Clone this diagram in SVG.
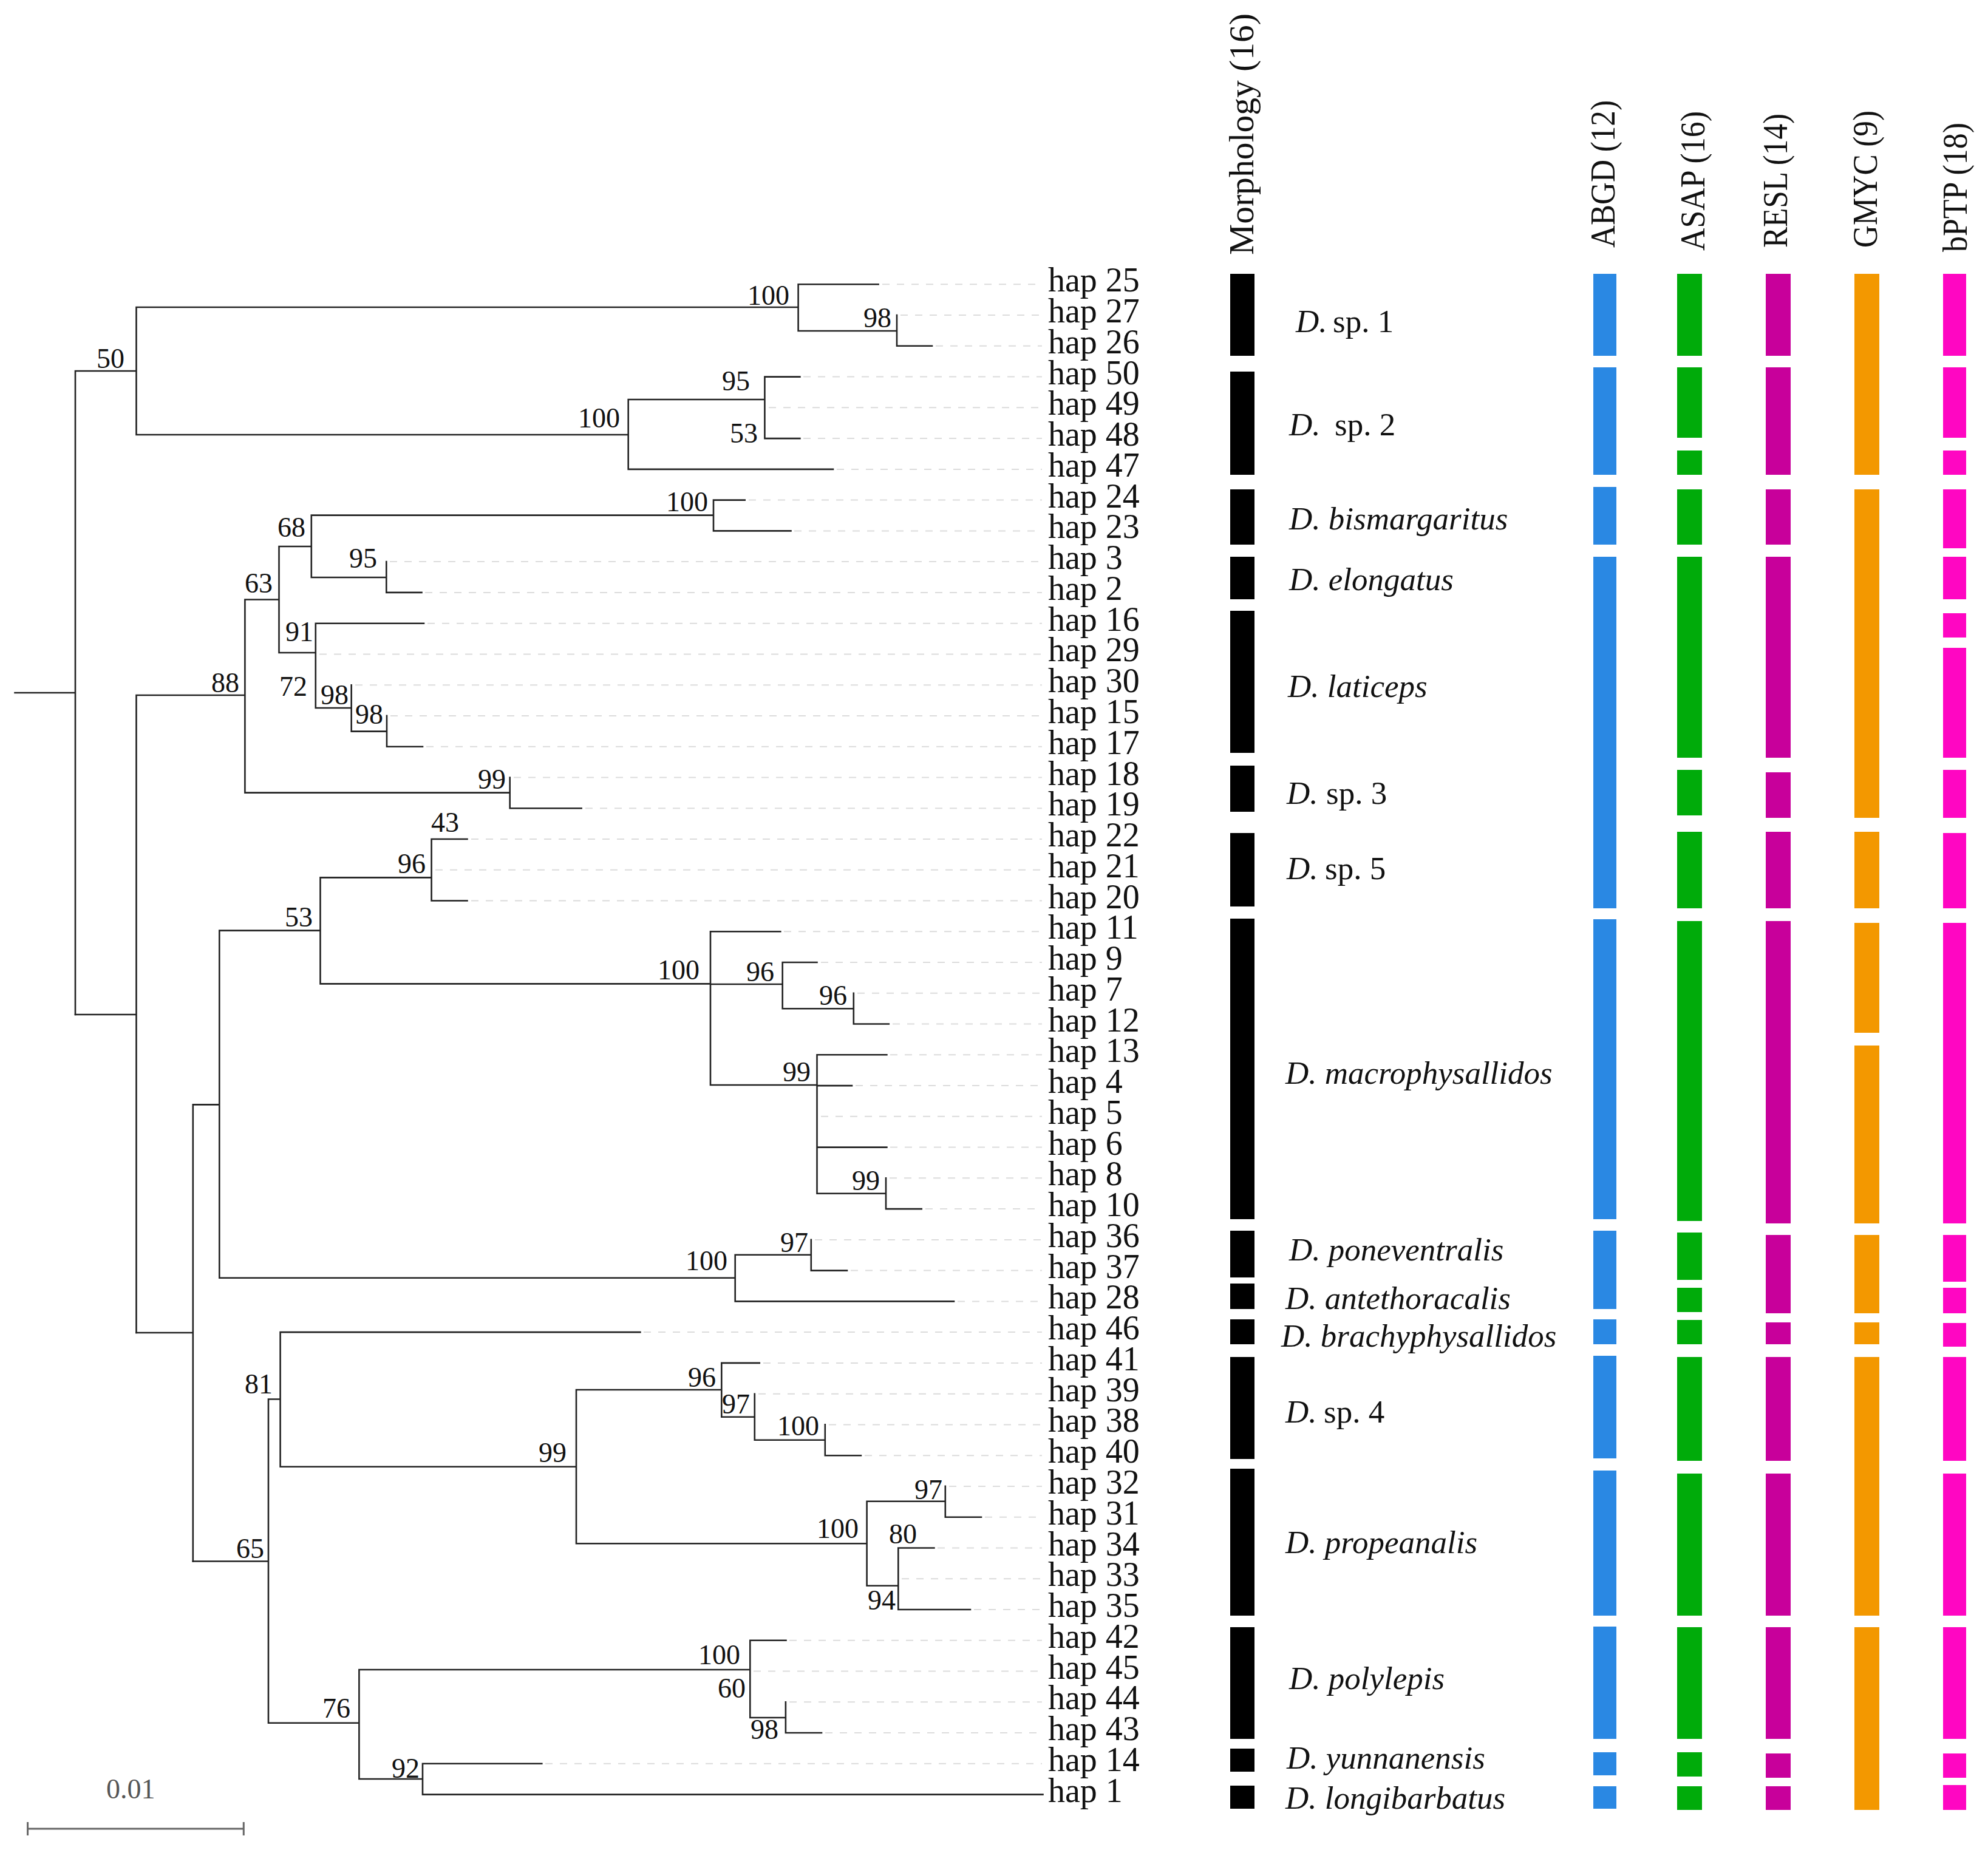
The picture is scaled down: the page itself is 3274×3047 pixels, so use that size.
<svg xmlns="http://www.w3.org/2000/svg" width="3274" height="3047" viewBox="0 0 3274 3047">
<style>
.br{stroke:#222;stroke-width:2.6;fill:none;stroke-linecap:square}
.dl{stroke:#dcdcdc;stroke-width:2;stroke-dasharray:12 12;fill:none}
.hap{font-family:"Liberation Serif","Times New Roman",serif;font-size:56px;fill:#111}
.bs{font-family:"Liberation Serif","Times New Roman",serif;font-size:46px;fill:#111;text-anchor:end}
.sp{font-family:"Liberation Serif","Times New Roman",serif;font-size:53px;fill:#111}
.it{font-style:italic}
.hd{font-family:"Liberation Serif","Times New Roman",serif;font-size:58px;fill:#111}
.mo{fill:#000}.ab{fill:#2A88E3}.as{fill:#00AB0A}.re{fill:#C8009B}.gm{fill:#F39800}.bp{fill:#FF06C2}
</style>
<rect width="3274" height="3047" fill="#fff"/>
<g id="connectors">
<path class="br" d="M24.5,1141H124M124,611V1671M124,611H224.5M224.5,506V716M224.5,506H1314.6M1314.6,468.3V545M1314.6,468.3H1446.6M1314.6,545H1477M1477,519.1V569.8M1477,569.8H1535M224.5,716H1034.7M1034.7,658V772.9M1034.7,658H1259.4M1259.4,620.6V722.1M1259.4,620.6H1317.4M1259.4,722.1H1317.4M1034.7,772.9H1372"/>
<path class="br" d="M124,1671H224.5M224.5,1145V2195M224.5,1145H403.4M403.4,987.5V1305.6M403.4,987.5H459.5M459.5,900V1075M459.5,900H512.8M512.8,848.6V951M512.8,848.6H1175M1175,823.6V874.4M1175,823.6H1226.7M1175,874.4H1302.5M512.8,951H636.3M636.3,925.1V975.9M636.3,975.9H694.5M459.5,1075H519.8M519.8,1026.7V1166M519.8,1026.7H698M519.8,1166H578.7M578.7,1128.2V1204.6M578.7,1204.6H637M637,1178.9V1229.7M637,1229.7H696M403.4,1305.6H839.7M839.7,1280.5V1331.2M839.7,1331.2H957.6"/>
<path class="br" d="M224.5,2195H317.8M317.8,1819.4V2571.5M317.8,1819.4H361.3M361.3,1532.6V2104.8M361.3,1532.6H527.5M527.5,1445.4V1620.4M527.5,1445.4H710.6M710.6,1382V1483.5M710.6,1382H769.5M710.6,1483.5H769.5M527.5,1620.4H1170M1170,1534.3V1787M1170,1534.3H1285.3M1170,1621H1288.7M1288.7,1585V1661.2M1288.7,1585H1345.5M1288.7,1661.2H1405.8M1405.8,1635.8V1686.5M1405.8,1686.5H1463.8M1170,1787H1345.5M1345.5,1737.3V1965.8M1345.5,1737.3H1460.4M1345.5,1788.1H1403M1345.5,1889.6H1460.4M1345.5,1965.8H1459M1459,1940.3V1991.1M1459,1991.1H1517.7M361.3,2104.8H1210.7M1210.7,2066.8V2143.4M1210.7,2066.8H1335.8M1335.8,2041.9V2092.6M1335.8,2092.6H1395M1210.7,2143.4H1571"/>
<path class="br" d="M317.8,2571.5H442M442,2304.5V2837.8M442,2304.5H461.6M461.6,2194.1V2415.7M461.6,2194.1H1054.4M461.6,2415.7H949M949,2289V2542.3M949,2289H1188.3M1188.3,2244.9V2333.8M1188.3,2244.9H1250.8M1188.3,2333.8H1242.8M1242.8,2295.7V2371.8M1242.8,2371.8H1358.8M1358.8,2346.4V2397.2M1358.8,2397.2H1417.9M949,2542.3H1427.6M1427.6,2472.8V2611.7M1427.6,2472.8H1556.8M1556.8,2447.9V2498.7M1556.8,2498.7H1616M1427.6,2611.7H1479.3M1479.3,2549.5V2651M1479.3,2549.5H1538.4M1479.3,2651H1598M442,2837.8H591.4M591.4,2750V2930M591.4,2750H1235.3M1235.3,2701.7V2829M1235.3,2701.7H1294.5M1235.3,2829H1293.9M1293.9,2803.3V2854M1293.9,2854H1353M591.4,2930H696M696,2904.8V2955.6M696,2904.8H892.3M696,2955.6H1717.5"/>
<path class="dl" d="M1453,468.3H1716M1483,519.1H1716M1541,569.8H1716M1323,620.6H1716M1266,671.3H1716M1323,722.1H1716M1378,772.9H1716M1233,823.6H1716M1308,874.4H1716M642,925.1H1716M700,975.9H1716M704,1026.7H1716M526,1077.4H1716M585,1128.2H1716M643,1178.9H1716M702,1229.7H1716M846,1280.5H1716M964,1331.2H1716M776,1382H1716M717,1432.7H1716M776,1483.5H1716M1291,1534.3H1716M1352,1585H1716M1412,1635.8H1716M1470,1686.5H1716M1466,1737.3H1716M1409,1788.1H1716M1352,1838.8H1716M1466,1889.6H1716M1465,1940.3H1716M1524,1991.1H1716M1342,2041.9H1716M1401,2092.6H1716M1577,2143.4H1716M1060,2194.1H1716M1257,2244.9H1716M1249,2295.7H1716M1365,2346.4H1716M1424,2397.2H1716M1563,2447.9H1716M1622,2498.7H1716M1544,2549.5H1716M1485,2600.2H1716M1604,2651H1716M1300,2701.7H1716M1241,2752.5H1716M1300,2803.3H1716M1359,2854H1716M898,2904.8H1716"/>
</g>
<g id="support">
<text class="bs" x="205" y="606">50</text>
<text class="bs" x="1300" y="502">100</text>
<text class="bs" x="1468" y="539">98</text>
<text class="bs" x="1021" y="704">100</text>
<text class="bs" x="1235" y="643">95</text>
<text class="bs" x="1248" y="729">53</text>
<text class="bs" x="1166" y="842">100</text>
<text class="bs" x="503" y="884">68</text>
<text class="bs" x="621" y="935">95</text>
<text class="bs" x="449" y="976">63</text>
<text class="bs" x="516" y="1056">91</text>
<text class="bs" x="394" y="1140">88</text>
<text class="bs" x="506" y="1146">72</text>
<text class="bs" x="574" y="1160">98</text>
<text class="bs" x="631" y="1192">98</text>
<text class="bs" x="833" y="1299">99</text>
<text class="bs" x="756" y="1370">43</text>
<text class="bs" x="701" y="1438">96</text>
<text class="bs" x="515" y="1526">53</text>
<text class="bs" x="1152" y="1613">100</text>
<text class="bs" x="1275" y="1616">96</text>
<text class="bs" x="1395" y="1655">96</text>
<text class="bs" x="1335" y="1781">99</text>
<text class="bs" x="1449" y="1960">99</text>
<text class="bs" x="1331" y="2062">97</text>
<text class="bs" x="1198" y="2092">100</text>
<text class="bs" x="449" y="2295">81</text>
<text class="bs" x="933" y="2408">99</text>
<text class="bs" x="1179" y="2284">96</text>
<text class="bs" x="1235" y="2328">97</text>
<text class="bs" x="1349" y="2364">100</text>
<text class="bs" x="1552" y="2469">97</text>
<text class="bs" x="1414" y="2533">100</text>
<text class="bs" x="1510" y="2542">80</text>
<text class="bs" x="1475" y="2651">94</text>
<text class="bs" x="435" y="2566">65</text>
<text class="bs" x="577" y="2829">76</text>
<text class="bs" x="1219" y="2741">100</text>
<text class="bs" x="1228" y="2796">60</text>
<text class="bs" x="1282" y="2864">98</text>
<text class="bs" x="691" y="2928">92</text>
</g>
<g id="leaves">
<text class="hap" x="1726" y="480.3">hap 25</text>
<text class="hap" x="1726" y="531.1">hap 27</text>
<text class="hap" x="1726" y="581.8">hap 26</text>
<text class="hap" x="1726" y="632.6">hap 50</text>
<text class="hap" x="1726" y="683.3">hap 49</text>
<text class="hap" x="1726" y="734.1">hap 48</text>
<text class="hap" x="1726" y="784.9">hap 47</text>
<text class="hap" x="1726" y="835.6">hap 24</text>
<text class="hap" x="1726" y="886.4">hap 23</text>
<text class="hap" x="1726" y="937.1">hap 3</text>
<text class="hap" x="1726" y="987.9">hap 2</text>
<text class="hap" x="1726" y="1038.7">hap 16</text>
<text class="hap" x="1726" y="1089.4">hap 29</text>
<text class="hap" x="1726" y="1140.2">hap 30</text>
<text class="hap" x="1726" y="1190.9">hap 15</text>
<text class="hap" x="1726" y="1241.7">hap 17</text>
<text class="hap" x="1726" y="1292.5">hap 18</text>
<text class="hap" x="1726" y="1343.2">hap 19</text>
<text class="hap" x="1726" y="1394">hap 22</text>
<text class="hap" x="1726" y="1444.7">hap 21</text>
<text class="hap" x="1726" y="1495.5">hap 20</text>
<text class="hap" x="1726" y="1546.3">hap 11</text>
<text class="hap" x="1726" y="1597">hap 9</text>
<text class="hap" x="1726" y="1647.8">hap 7</text>
<text class="hap" x="1726" y="1698.5">hap 12</text>
<text class="hap" x="1726" y="1749.3">hap 13</text>
<text class="hap" x="1726" y="1800.1">hap 4</text>
<text class="hap" x="1726" y="1850.8">hap 5</text>
<text class="hap" x="1726" y="1901.6">hap 6</text>
<text class="hap" x="1726" y="1952.3">hap 8</text>
<text class="hap" x="1726" y="2003.1">hap 10</text>
<text class="hap" x="1726" y="2053.9">hap 36</text>
<text class="hap" x="1726" y="2104.6">hap 37</text>
<text class="hap" x="1726" y="2155.4">hap 28</text>
<text class="hap" x="1726" y="2206.1">hap 46</text>
<text class="hap" x="1726" y="2256.9">hap 41</text>
<text class="hap" x="1726" y="2307.7">hap 39</text>
<text class="hap" x="1726" y="2358.4">hap 38</text>
<text class="hap" x="1726" y="2409.2">hap 40</text>
<text class="hap" x="1726" y="2459.9">hap 32</text>
<text class="hap" x="1726" y="2510.7">hap 31</text>
<text class="hap" x="1726" y="2561.5">hap 34</text>
<text class="hap" x="1726" y="2612.2">hap 33</text>
<text class="hap" x="1726" y="2663">hap 35</text>
<text class="hap" x="1726" y="2713.7">hap 42</text>
<text class="hap" x="1726" y="2764.5">hap 45</text>
<text class="hap" x="1726" y="2815.3">hap 44</text>
<text class="hap" x="1726" y="2866">hap 43</text>
<text class="hap" x="1726" y="2916.8">hap 14</text>
<text class="hap" x="1726" y="2967.6">hap 1</text>
</g>
<g id="scale-bar">
<path d="M45.6,3012H401.3M45.6,3001V3023M401.3,3001V3023" stroke="#666" stroke-width="3" fill="none"/>
<text x="175" y="2962" font-family="Liberation Serif, serif" font-size="46" fill="#555">0.01</text>
</g>
<g id="headers">
<text class="hd" transform="translate(2064,420) rotate(-90)" textLength="398" lengthAdjust="spacingAndGlyphs">Morphology (16)</text>
<text class="hd" transform="translate(2659,408) rotate(-90)" textLength="243" lengthAdjust="spacingAndGlyphs">ABGD (12)</text>
<text class="hd" transform="translate(2807,413) rotate(-90)" textLength="230" lengthAdjust="spacingAndGlyphs">ASAP (16)</text>
<text class="hd" transform="translate(2943,408) rotate(-90)" textLength="221" lengthAdjust="spacingAndGlyphs">RESL (14)</text>
<text class="hd" transform="translate(3091,408) rotate(-90)" textLength="226" lengthAdjust="spacingAndGlyphs">GMYC (9)</text>
<text class="hd" transform="translate(3239,415) rotate(-90)" textLength="213" lengthAdjust="spacingAndGlyphs">bPTP (18)</text>
</g>
<g id="morphology">
<rect class="mo" x="2026" y="451" width="40" height="135"/>
<rect class="mo" x="2026" y="612" width="40" height="170"/>
<rect class="mo" x="2026" y="806" width="40" height="91"/>
<rect class="mo" x="2026" y="917" width="40" height="70"/>
<rect class="mo" x="2026" y="1006" width="40" height="234"/>
<rect class="mo" x="2026" y="1261" width="40" height="76"/>
<rect class="mo" x="2026" y="1372" width="40" height="121"/>
<rect class="mo" x="2026" y="1513" width="40" height="495"/>
<rect class="mo" x="2026" y="2027" width="40" height="77"/>
<rect class="mo" x="2026" y="2114" width="40" height="42"/>
<rect class="mo" x="2026" y="2173" width="40" height="41"/>
<rect class="mo" x="2026" y="2235" width="40" height="168"/>
<rect class="mo" x="2026" y="2419" width="40" height="242"/>
<rect class="mo" x="2026" y="2680" width="40" height="184"/>
<rect class="mo" x="2026" y="2880" width="40" height="38"/>
<rect class="mo" x="2026" y="2941" width="40" height="38"/>
</g>
<g id="species">
<text class="sp" x="2134" y="547"><tspan class="it">D.</tspan><tspan x="2195">sp. 1</tspan></text>
<text class="sp" x="2123" y="717"><tspan class="it">D.</tspan><tspan x="2198">sp. 2</tspan></text>
<text class="sp it" x="2123" y="872">D. bismargaritus</text>
<text class="sp it" x="2123" y="972">D. elongatus</text>
<text class="sp it" x="2121" y="1148">D. laticeps</text>
<text class="sp" x="2119" y="1324"><tspan class="it">D.</tspan><tspan x="2184">sp. 3</tspan></text>
<text class="sp" x="2119" y="1448"><tspan class="it">D.</tspan><tspan x="2182">sp. 5</tspan></text>
<text class="sp it" x="2117" y="1785">D. macrophysallidos</text>
<text class="sp it" x="2123" y="2076">D. poneventralis</text>
<text class="sp it" x="2117" y="2156">D. antethoracalis</text>
<text class="sp it" x="2110" y="2218">D. brachyphysallidos</text>
<text class="sp" x="2117" y="2343"><tspan class="it">D.</tspan><tspan x="2180">sp. 4</tspan></text>
<text class="sp it" x="2117" y="2558">D. propeanalis</text>
<text class="sp it" x="2123" y="2782">D. polylepis</text>
<text class="sp it" x="2119" y="2913">D. yunnanensis</text>
<text class="sp it" x="2117" y="2979">D. longibarbatus</text>
</g>
<g id="abgd">
<rect class="ab" x="2624" y="451" width="38" height="135"/>
<rect class="ab" x="2624" y="605" width="38" height="177"/>
<rect class="ab" x="2624" y="802" width="38" height="95"/>
<rect class="ab" x="2624" y="917" width="38" height="579"/>
<rect class="ab" x="2624" y="1514" width="38" height="494"/>
<rect class="ab" x="2624" y="2027" width="38" height="129"/>
<rect class="ab" x="2624" y="2173" width="38" height="41"/>
<rect class="ab" x="2624" y="2233" width="38" height="169"/>
<rect class="ab" x="2624" y="2422" width="38" height="239"/>
<rect class="ab" x="2624" y="2679" width="38" height="185"/>
<rect class="ab" x="2624" y="2886" width="38" height="38"/>
<rect class="ab" x="2624" y="2942" width="38" height="37"/>
</g>
<g id="asap">
<rect class="as" x="2762" y="451" width="41" height="135"/>
<rect class="as" x="2762" y="605" width="41" height="116"/>
<rect class="as" x="2762" y="742" width="41" height="40"/>
<rect class="as" x="2762" y="806" width="41" height="91"/>
<rect class="as" x="2762" y="917" width="41" height="331"/>
<rect class="as" x="2762" y="1268" width="41" height="75"/>
<rect class="as" x="2762" y="1370" width="41" height="126"/>
<rect class="as" x="2762" y="1517" width="41" height="494"/>
<rect class="as" x="2762" y="2030" width="41" height="78"/>
<rect class="as" x="2762" y="2121" width="41" height="40"/>
<rect class="as" x="2762" y="2174" width="41" height="40"/>
<rect class="as" x="2762" y="2235" width="41" height="171"/>
<rect class="as" x="2762" y="2427" width="41" height="234"/>
<rect class="as" x="2762" y="2680" width="41" height="184"/>
<rect class="as" x="2762" y="2886" width="41" height="40"/>
<rect class="as" x="2762" y="2942" width="41" height="39"/>
</g>
<g id="resl">
<rect class="re" x="2908" y="451" width="41" height="135"/>
<rect class="re" x="2908" y="605" width="41" height="177"/>
<rect class="re" x="2908" y="806" width="41" height="91"/>
<rect class="re" x="2908" y="917" width="41" height="331"/>
<rect class="re" x="2908" y="1272" width="41" height="75"/>
<rect class="re" x="2908" y="1370" width="41" height="126"/>
<rect class="re" x="2908" y="1517" width="41" height="498"/>
<rect class="re" x="2908" y="2034" width="41" height="129"/>
<rect class="re" x="2908" y="2178" width="41" height="36"/>
<rect class="re" x="2908" y="2235" width="41" height="171"/>
<rect class="re" x="2908" y="2427" width="41" height="234"/>
<rect class="re" x="2908" y="2680" width="41" height="184"/>
<rect class="re" x="2908" y="2888" width="41" height="40"/>
<rect class="re" x="2908" y="2942" width="41" height="39"/>
</g>
<g id="gmyc">
<rect class="gm" x="3054" y="451" width="41" height="331"/>
<rect class="gm" x="3054" y="806" width="41" height="541"/>
<rect class="gm" x="3054" y="1370" width="41" height="126"/>
<rect class="gm" x="3054" y="1520" width="41" height="181"/>
<rect class="gm" x="3054" y="1722" width="41" height="293"/>
<rect class="gm" x="3054" y="2034" width="41" height="129"/>
<rect class="gm" x="3054" y="2178" width="41" height="36"/>
<rect class="gm" x="3054" y="2235" width="41" height="426"/>
<rect class="gm" x="3054" y="2680" width="41" height="301"/>
</g>
<g id="bptp">
<rect class="bp" x="3200" y="451" width="38" height="135"/>
<rect class="bp" x="3200" y="605" width="38" height="116"/>
<rect class="bp" x="3200" y="742" width="38" height="40"/>
<rect class="bp" x="3200" y="806" width="38" height="97"/>
<rect class="bp" x="3200" y="917" width="38" height="70"/>
<rect class="bp" x="3200" y="1010" width="38" height="40"/>
<rect class="bp" x="3200" y="1067" width="38" height="181"/>
<rect class="bp" x="3200" y="1268" width="38" height="79"/>
<rect class="bp" x="3200" y="1372" width="38" height="124"/>
<rect class="bp" x="3200" y="1520" width="38" height="495"/>
<rect class="bp" x="3200" y="2034" width="38" height="77"/>
<rect class="bp" x="3200" y="2121" width="38" height="42"/>
<rect class="bp" x="3200" y="2179" width="38" height="39"/>
<rect class="bp" x="3200" y="2235" width="38" height="171"/>
<rect class="bp" x="3200" y="2427" width="38" height="234"/>
<rect class="bp" x="3200" y="2680" width="38" height="184"/>
<rect class="bp" x="3200" y="2888" width="38" height="40"/>
<rect class="bp" x="3200" y="2940" width="38" height="41"/>
</g>
</svg>
